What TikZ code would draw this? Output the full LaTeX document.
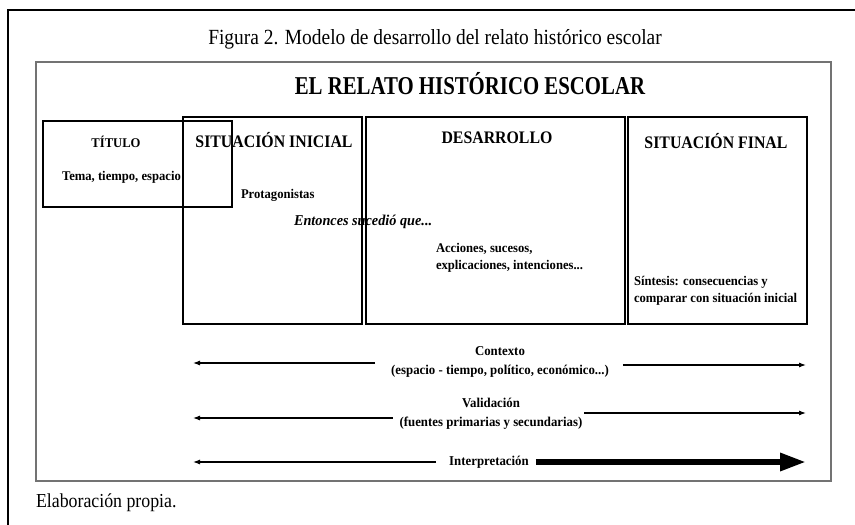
\documentclass[tikz,border=0pt]{standalone}
\usepackage{fontspec}
\setmainfont{Liberation Serif}
\newfontfamily\relcaption[FakeStretch=0.9]{Liberation Serif}
\newfontfamily\reltitle[FakeStretch=0.81]{Liberation Serif}
\newfontfamily\relhead[FakeStretch=0.9]{Liberation Serif}
\newfontfamily\relbody[FakeStretch=0.95]{Liberation Serif}
\usetikzlibrary{arrows.meta}
\colorlet{frameGray}{black!55}

\begin{document}
\begin{tikzpicture}[
  x=1pt,
  y=-1pt,
  every node/.style={
    inner sep=0pt,
    outer sep=0pt,
  },
  stage/.style={
    draw,
    line width=1.2pt,
    anchor=north west,
  },
  heading/.style={
    font=\relhead\bfseries\fontsize{17.6}{20}\selectfont,
  },
  body/.style={
    font=\relbody\bfseries\fontsize{13.3}{16.5}\selectfont,
    align=left,
  },
  axis label/.style={
    font=\relbody\bfseries\fontsize{13.5}{18.5}\selectfont,
    align=center,
  },
  thin arrow/.style={
    -{Latex[length=7pt,width=5pt]},
    line width=1.1pt,
  },
  thick arrow/.style={
    -{Triangle[length=26pt,width=17pt]},
    line width=6pt,
  }
]
\useasboundingbox (0,0) rectangle (855,525);
% frames
\draw[line width=2.5pt] (8,525) -- (8,10) -- (855,10);
\draw[frameGray, line width=1.6pt] (36,62) rectangle (831,481);
\node[font=\relcaption\fontsize{21.6}{24}\selectfont] (caption) at (435,39)
  {Figura 2. Modelo de desarrollo del relato histórico escolar};
\node[font=\relcaption\fontsize{19.8}{22}\selectfont, anchor=west] (source) at (36,503)
  {Elaboración propia.};
\node[font=\reltitle\bfseries\fontsize{25.7}{28}\selectfont] (title) at (470,84)
  {EL RELATO HISTÓRICO ESCOLAR};

% boxes
\node[stage, minimum width=189pt, minimum height=86pt] (titulo) at (43,121) {};
\node[stage, minimum width=179pt, minimum height=207pt] (inicial) at (183,117) {};
\node[stage, minimum width=259pt, minimum height=207pt] (desarrollo) at (366,117) {};
\node[stage, minimum width=179pt, minimum height=207pt] (final) at (628,117) {};

% box texts
\node[body] (tituloHead) at (116,142) {TÍTULO};
\node[body, anchor=west] (tituloText) at (62,177) {Tema, tiempo, espacio};
\node[heading] (inicialHead) at (274,140) {SITUACIÓN INICIAL};
\node[body, anchor=west] (protagonistas) at (241,195) {Protagonistas};
\node[body, font=\relbody\bfseries\itshape\fontsize{15}{17}\selectfont, anchor=west]
  (entonces) at (294,222) {Entonces sucedió que...};
\node[heading] (desarrolloHead) at (497,138) {DESARROLLO};
\node[body, anchor=west] (acciones) at (436,258)
  {Acciones, sucesos,\\explicaciones, intenciones...};
\node[heading] (finalHead) at (716,141) {SITUACIÓN FINAL};
\node[body, anchor=west] (sintesis) at (634,291)
  {Síntesis: consecuencias y\\comparar con situación inicial};

% axes
\node[axis label] (contexto) at (500,362)
  {Contexto\\(espacio - tiempo, político, económico...)};
\node[axis label] (validacion) at (491,414)
  {Validación\\(fuentes primarias y secundarias)};
\node[axis label] (interp) at (489,462) {Interpretación};

\coordinate (contexto-L) at (193,363);
\coordinate (contexto-R) at (806,365);
\coordinate (validacion-L) at (193,418);
\coordinate (validacion-R) at (806,413);
\coordinate (interp-L) at (193,462);
\coordinate (interp-R) at (806,462);

\foreach \row/\gap in {contexto/16, validacion/7, interp/13}
  \draw[thin arrow, shorten <=\gap pt] (\row.west |- \row-L) -- (\row-L);
\draw[thin arrow, shorten <=14pt] (contexto.east |- contexto-R) -- (contexto-R);
\draw[thin arrow, shorten <=2pt] (validacion.east |- validacion-R) -- (validacion-R);
\draw[thick arrow, shorten <=7pt] (interp.east) -- (interp-R);
\end{tikzpicture}
\end{document}
